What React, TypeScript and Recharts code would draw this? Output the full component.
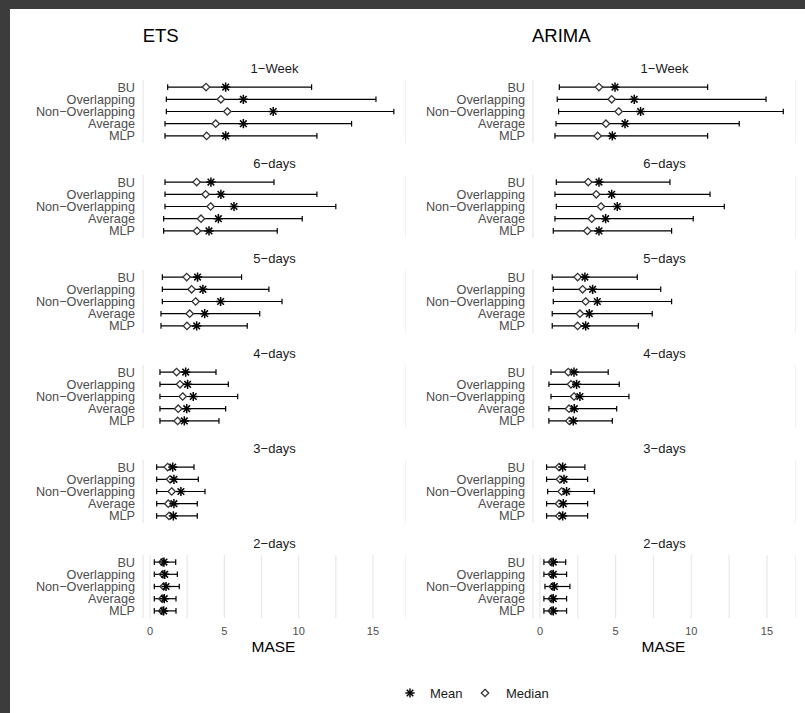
import { ScatterChart, Scatter, XAxis, YAxis, CartesianGrid, ErrorBar } from 'recharts'

const FONT = '"Liberation Sans", Arial, Helvetica, sans-serif'

const methods = ['BU', 'Overlapping', 'Non−Overlapping', 'Average', 'MLP']
const horizons = ['1−Week', '6−days', '5−days', '4−days', '3−days', '2−days']
const gridTicks = [0, 2.5, 5, 7.5, 10, 12.5, 15]
const labelTicks = [0, 5, 10, 15]

// ETS: whisker ends, median, mean per horizon (rows) and method (cols)
const etsLower = [
  [1.19, 1.1, 1.1, 1.01, 1.01],
  [1.01, 1.01, 1.01, 0.92, 0.92],
  [0.83, 0.83, 0.83, 0.74, 0.74],
  [0.67, 0.67, 0.67, 0.67, 0.67],
  [0.45, 0.45, 0.45, 0.45, 0.45],
  [0.29, 0.29, 0.29, 0.29, 0.29],
]
const etsMedian = [
  [3.77, 4.77, 5.2, 4.42, 3.81],
  [3.14, 3.74, 4.08, 3.43, 3.16],
  [2.47, 2.8, 3.07, 2.67, 2.49],
  [1.79, 2.02, 2.2, 1.9, 1.86],
  [1.19, 1.35, 1.46, 1.23, 1.28],
  [0.83, 0.87, 0.92, 0.83, 0.81],
]
const etsMean = [
  [5.09, 6.28, 8.29, 6.28, 5.09],
  [4.1, 4.77, 5.65, 4.6, 3.97],
  [3.2, 3.56, 4.75, 3.68, 3.14],
  [2.4, 2.53, 2.91, 2.47, 2.31],
  [1.53, 1.61, 2.08, 1.61, 1.57],
  [0.94, 0.99, 1.08, 0.96, 0.92],
]
const etsUpper = [
  [10.87, 15.2, 16.4, 13.56, 11.23],
  [8.34, 11.23, 12.5, 10.24, 8.56],
  [6.16, 8.0, 8.88, 7.38, 6.54],
  [4.44, 5.27, 5.9, 5.09, 4.64],
  [2.96, 3.25, 3.7, 3.18, 3.18],
  [1.73, 1.84, 1.97, 1.75, 1.75],
]

// ARIMA
const arimaLower = [
  [1.28, 1.14, 1.23, 1.06, 0.99],
  [1.08, 0.99, 1.08, 0.99, 0.88],
  [0.81, 0.88, 0.88, 0.81, 0.81],
  [0.73, 0.59, 0.73, 0.59, 0.59],
  [0.44, 0.44, 0.51, 0.44, 0.44],
  [0.26, 0.26, 0.33, 0.26, 0.26],
]
const arimaMedian = [
  [3.9, 4.74, 5.2, 4.36, 3.81],
  [3.19, 3.72, 4.03, 3.42, 3.13],
  [2.49, 2.82, 3.02, 2.64, 2.49],
  [1.87, 2.05, 2.25, 1.92, 1.94],
  [1.26, 1.32, 1.43, 1.26, 1.28],
  [0.77, 0.77, 0.84, 0.77, 0.77],
]
const arimaMean = [
  [4.96, 6.23, 6.65, 5.62, 4.78],
  [3.9, 4.74, 5.11, 4.34, 3.9],
  [2.97, 3.48, 3.79, 3.26, 3.02],
  [2.25, 2.42, 2.64, 2.27, 2.2],
  [1.5, 1.59, 1.76, 1.54, 1.5],
  [0.88, 0.88, 0.95, 0.88, 0.88],
]
const arimaUpper = [
  [11.08, 14.94, 16.08, 13.17, 11.08],
  [8.59, 11.24, 12.18, 10.13, 8.7],
  [6.43, 7.98, 8.7, 7.42, 6.5],
  [4.51, 5.24, 5.88, 5.07, 4.78],
  [2.97, 3.15, 3.59, 3.15, 3.15],
  [1.7, 1.76, 1.98, 1.76, 1.76],
]

const PANEL_H = 63
const YAXIS_W = 113
const PLOT_W = 263

function Star(props: any) {
  const { cx, cy } = props
  if (cx == null || cy == null) return null
  const r = 4.6
  const d = 3.3
  return (
    <g stroke="#000" strokeWidth={1.5}>
      <line x1={cx} y1={cy - r} x2={cx} y2={cy + r} />
      <line x1={cx - r} y1={cy} x2={cx + r} y2={cy} />
      <line x1={cx - d} y1={cy - d} x2={cx + d} y2={cy + d} />
      <line x1={cx - d} y1={cy + d} x2={cx + d} y2={cy - d} />
    </g>
  )
}

function Diamond(props: any) {
  const { cx, cy } = props
  if (cx == null || cy == null) return null
  const r = 3.7
  return (
    <polygon
      points={`${cx},${cy - r} ${cx + r},${cy} ${cx},${cy + r} ${cx - r},${cy}`}
      fill="#fff"
      stroke="#333"
      strokeWidth={1.3}
    />
  )
}

function Facet({ lower, median, mean, upper, domain, last }: any) {
  const medianPts = methods.map((m, i) => ({ method: m, x: median[i], err: [median[i] - lower[i], upper[i] - median[i]] }))
  const meanPts = methods.map((m, i) => ({ method: m, x: mean[i] }))
  return (
    <ScatterChart width={YAXIS_W + PLOT_W} height={last ? PANEL_H + 24 : PANEL_H} margin={{ top: 0, right: 0, bottom: 0, left: 0 }}>
      <CartesianGrid horizontal={false} stroke="#e8e8e8" strokeWidth={1.2} />
      <XAxis
        type="number"
        dataKey="x"
        domain={domain}
        ticks={gridTicks}
        allowDataOverflow
        axisLine={false}
        tickLine={false}
        height={last ? 24 : 0}
        tickMargin={3}
        tick={last ? { fill: '#4d4d4d', fontSize: 11, fontFamily: FONT } : false}
        tickFormatter={(v: number) => (labelTicks.includes(v) ? String(v) : '')}
      />
      <YAxis
        type="category"
        dataKey="method"
        allowDuplicatedCategory={false}
        reversed
        width={YAXIS_W}
        padding={{ top: 1, bottom: 1 }}
        axisLine={false}
        tickLine={false}
        interval={0}
        tick={{ fill: '#4d4d4d', fontSize: 12.7, fontFamily: FONT }}
      />
      <Scatter data={medianPts} shape={(p: any) => <Diamond {...p} />} isAnimationActive={false}>
        <ErrorBar dataKey="err" direction="x" width={2.8} stroke="#000" strokeWidth={1.2} />
      </Scatter>
      <Scatter data={meanPts} shape={(p: any) => <Star {...p} />} isAnimationActive={false} />
    </ScatterChart>
  )
}

const models = [
  { name: 'ETS', left: 30, domain: [-0.47, 17.22], lower: etsLower, median: etsMedian, mean: etsMean, upper: etsUpper },
  { name: 'ARIMA', left: 420, domain: [-0.46, 16.92], lower: arimaLower, median: arimaMedian, mean: arimaMean, upper: arimaUpper },
]

export default function App() {
  const panelTop = (i: number) => 80 + i * 95
  return (
    <div style={{ position: 'fixed', left: 0, top: 0, width: 805, height: 713, background: '#3c3c3c', overflow: 'hidden', fontFamily: FONT }}>
      <div style={{ position: 'absolute', left: 10, top: 9, width: 795, height: 704, background: '#fff' }} />
      {models.map((m) =>
        horizons.map((h, i) => (
          <div key={m.name + h} style={{ position: 'absolute', left: m.left, top: panelTop(i) }}>
            <Facet
              lower={m.lower[i]}
              median={m.median[i]}
              mean={m.mean[i]}
              upper={m.upper[i]}
              domain={m.domain}
              last={i === horizons.length - 1}
            />
          </div>
        ))
      )}
      <svg width={805} height={713} style={{ position: 'absolute', left: 0, top: 0, pointerEvents: 'none' }} fontFamily={FONT}>
        {models.map((m) => {
          const cx = m.left + YAXIS_W + PLOT_W / 2
          return (
            <g key={m.name}>
              <text x={m.name === 'ETS' ? 142.7 : 532} y={41.7} fontSize={18.5} fill="#000">
                {m.name}
              </text>
              {horizons.map((h, i) => (
                <text key={h} x={cx} y={panelTop(i) - 7.5} fontSize={13} fill="#1a1a1a" textAnchor="middle">
                  {h}
                </text>
              ))}
              <text x={cx - 1} y={651.7} fontSize={15.5} fill="#000" textAnchor="middle">
                MASE
              </text>
            </g>
          )
        })}
        <g>
          <g stroke="#000" strokeWidth={1.5}>
            <line x1={410} y1={688.4} x2={410} y2={697.6} />
            <line x1={405.4} y1={693} x2={414.6} y2={693} />
            <line x1={406.7} y1={689.7} x2={413.3} y2={696.3} />
            <line x1={406.7} y1={696.3} x2={413.3} y2={689.7} />
          </g>
          <text x={430} y={697.5} fontSize={13} fill="#1a1a1a">Mean</text>
          <polygon points="485,689.3 488.7,693 485,696.7 481.3,693" fill="#fff" stroke="#333" strokeWidth={1.3} />
          <text x={506} y={697.5} fontSize={13} fill="#1a1a1a">Median</text>
        </g>
      </svg>
    </div>
  )
}
